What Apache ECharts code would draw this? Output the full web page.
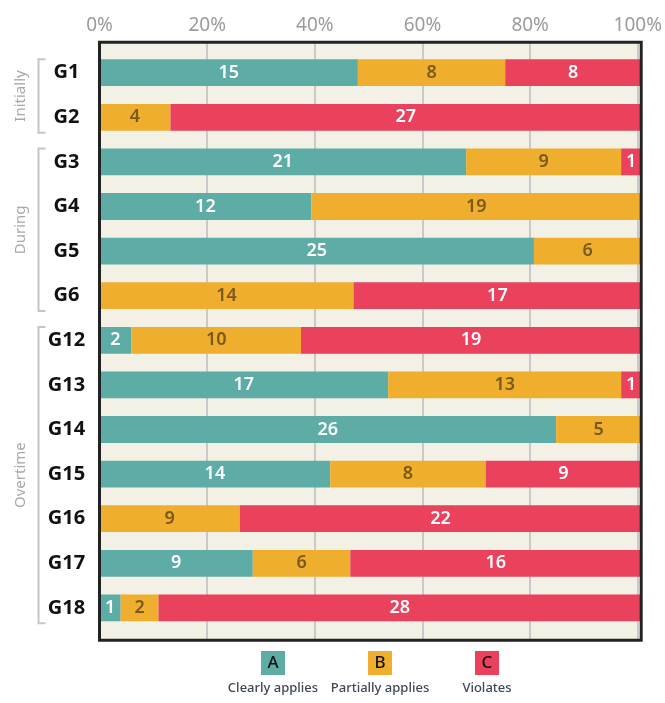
<!DOCTYPE html>
<html>
<head>
<meta charset="utf-8">
<script src="https://cdn.jsdelivr.net/npm/echarts@6/dist/echarts.min.js"></script>
<style>
  html, body { margin: 0; padding: 0; background: #ffffff; }
  #main { width: 665px; height: 703px; }
</style>
</head>
<body>
<div id="main"></div>
<script>
// rows, top to bottom
var categories = ['G1', 'G2', 'G3', 'G4', 'G5', 'G6', 'G12', 'G13', 'G14', 'G15', 'G16', 'G17', 'G18'];

// counts printed on the bars
var clearlyCount   = [15, 0, 21, 12, 25, 0, 2, 17, 26, 14, 0, 9, 1];
var partiallyCount = [8, 4, 9, 19, 6, 14, 10, 13, 5, 8, 9, 6, 2];
var violatesCount  = [8, 27, 1, 0, 0, 17, 19, 1, 0, 9, 22, 16, 28];

// bar lengths in percent
var clearlyPct   = [47.7, 0, 67.7, 39.1, 80.2, 0, 5.9, 53.3, 84.3, 42.6, 0, 28.3, 3.9];
var partiallyPct = [27.2, 13.1, 28.6, 60.9, 19.8, 46.9, 31.3, 43.0, 15.7, 28.7, 25.9, 18.0, 7.0];
var violatesPct  = [25.1, 86.9, 3.7, 0, 0, 53.1, 62.8, 3.7, 0, 28.7, 74.1, 53.7, 89.1];

var xTicks = [0, 20, 40, 60, 80, 100];

// groups on the left
var groupNames = ['Initially', 'During', 'Overtime'];
var groupFirst = ['G1', 'G3', 'G12'];
var groupLast  = ['G2', 'G6', 'G18'];

// legend
var legendLetters = ['A', 'B', 'C'];
var legendNames = ['Clearly applies', 'Partially applies', 'Violates'];
var colors = ['#5eaca6', '#efae2d', '#ea415c'];
var labelColors = ['#ffffff', '#7a5a1c', '#ffffff'];

var FONT = 'Noto Sans';
var chart = echarts.init(document.getElementById('main'));

var counts = [clearlyCount, partiallyCount, violatesCount];
var pcts = [clearlyPct, partiallyPct, violatesPct];

// frame box and the inner box the rows sit in
var frame = { left: 99.5, right: 23.8, top: 42.2, bottom: 62.8 };
var rows = { left: 99.5, right: 23.8, top: 50.4, bottom: 72.8 };

function makeSeries(k) {
    return {
        name: legendNames[k],
        type: 'bar',
        stack: 'all',
        xAxisIndex: 1,
        yAxisIndex: 1,
        barWidth: '60%',
        itemStyle: { color: colors[k] },
        label: {
            show: true,
            position: 'inside',
            color: labelColors[k],
            fontFamily: FONT,
            fontSize: 18,
            fontWeight: 600,
            formatter: function (p) {
                var v = counts[k][p.dataIndex];
                return v === 0 ? '' : String(v);
            }
        },
        data: pcts[k]
    };
}

var option = {
    backgroundColor: '#ffffff',
    animation: false,
    grid: [
        {
            left: frame.left, right: frame.right, top: frame.top, bottom: frame.bottom,
            show: true, backgroundColor: '#f3f0e5', borderWidth: 0
        },
        { left: rows.left, right: rows.right, top: rows.top, bottom: rows.bottom }
    ],
    xAxis: [
        {
            gridIndex: 0,
            type: 'value',
            position: 'top',
            min: xTicks[0],
            max: xTicks[xTicks.length - 1],
            interval: 20,
            axisLine: { show: false },
            axisTick: { show: false },
            axisLabel: {
                color: '#9b9b9b', fontFamily: FONT, fontSize: 19, margin: 7,
                formatter: '{value}%'
            },
            splitLine: { lineStyle: { color: '#c9c9c9', width: 2 } }
        },
        {
            gridIndex: 1,
            type: 'value',
            min: xTicks[0],
            max: xTicks[xTicks.length - 1],
            show: false
        }
    ],
    yAxis: [
        { gridIndex: 0, type: 'value', show: false },
        {
            gridIndex: 1,
            type: 'category',
            inverse: true,
            data: categories,
            axisLine: { show: false },
            axisTick: { show: false },
            axisLabel: {
                color: '#111111', fontFamily: FONT, fontSize: 20, fontWeight: 'bold',
                align: 'center', margin: 33
            }
        }
    ],
    series: [makeSeries(0), makeSeries(1), makeSeries(2)]
};
chart.setOption(option);

var graphics = [];

// dark frame on top of everything
graphics.push({
    type: 'rect',
    z: 100,
    shape: {
        x: frame.left, y: frame.top,
        width: 665 - frame.left - frame.right,
        height: 703 - frame.top - frame.bottom
    },
    style: { fill: null, stroke: '#222222', lineWidth: 3 }
});

// brackets and group titles, placed through the axis scale
var band = (703 - rows.top - rows.bottom) / categories.length;
var half = band * 0.6 / 2;
for (var g = 0; g < groupNames.length; g++) {
    var y1 = chart.convertToPixel({ yAxisIndex: 1 }, groupFirst[g]) - half;
    var y2 = chart.convertToPixel({ yAxisIndex: 1 }, groupLast[g]) + half + 2;
    graphics.push({
        type: 'polyline',
        shape: { points: [[45.5, y1], [38.5, y1], [38.5, y2], [45.5, y2]] },
        style: { stroke: '#c6c6c6', lineWidth: 2, fill: null }
    });
    graphics.push({
        type: 'text',
        x: 20.5, y: (y1 + y2) / 2,
        rotation: Math.PI / 2,
        style: {
            text: groupNames[g], fill: '#a8a8a8', font: '15px "' + FONT + '"',
            align: 'center', verticalAlign: 'middle'
        }
    });
}

// legend: letter tiles with names below
var legendX = [273, 380, 487];
for (var k = 0; k < legendLetters.length; k++) {
    graphics.push({
        type: 'rect',
        shape: { x: legendX[k] - 12, y: 651, width: 24, height: 24 },
        style: { fill: colors[k] }
    });
    graphics.push({
        type: 'text',
        x: legendX[k], y: 663,
        style: {
            text: legendLetters[k], fill: '#111111', font: '500 17px "' + FONT + '"',
            align: 'center', verticalAlign: 'middle'
        }
    });
    graphics.push({
        type: 'text',
        x: legendX[k], y: 688,
        style: {
            text: legendNames[k], fill: '#3e4756', font: '500 13px "' + FONT + '"',
            align: 'center', verticalAlign: 'middle'
        }
    });
}
chart.setOption({ graphic: graphics });
</script>
</body>
</html>
